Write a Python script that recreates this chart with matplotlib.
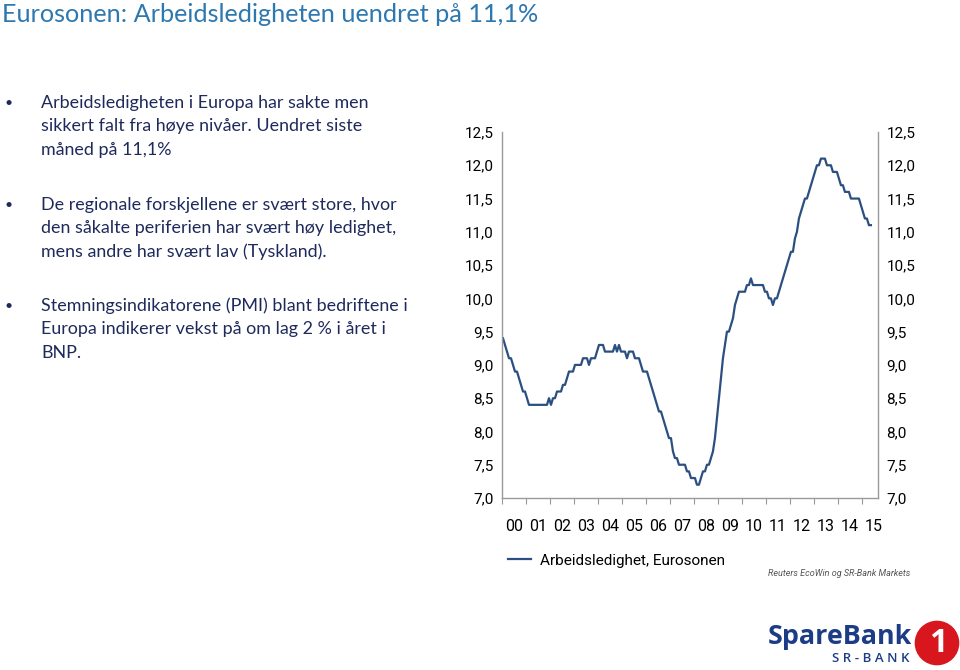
import numpy as np
import matplotlib
matplotlib.use("Agg")
import matplotlib.pyplot as plt
from matplotlib.patches import Circle

# Arbeidsledighet i eurosonen, månedlig jan 2000 - mai 2015 (%)
ledighet = [
    9.4, 9.3, 9.2, 9.1, 9.1, 9.0, 8.9, 8.9, 8.8, 8.7, 8.6, 8.6,       # 2000
    8.5, 8.4, 8.4, 8.4, 8.4, 8.4, 8.4, 8.4, 8.4, 8.4, 8.4, 8.5,       # 2001
    8.4, 8.5, 8.5, 8.6, 8.6, 8.6, 8.7, 8.7, 8.8, 8.9, 8.9, 8.9,       # 2002
    9.0, 9.0, 9.0, 9.0, 9.1, 9.1, 9.1, 9.0, 9.1, 9.1, 9.1, 9.2,       # 2003
    9.3, 9.3, 9.3, 9.2, 9.2, 9.2, 9.2, 9.2, 9.3, 9.2, 9.3, 9.2,       # 2004
    9.2, 9.2, 9.1, 9.2, 9.2, 9.2, 9.1, 9.1, 9.1, 9.0, 8.9, 8.9,       # 2005
    8.9, 8.8, 8.7, 8.6, 8.5, 8.4, 8.3, 8.3, 8.2, 8.1, 8.0, 7.9,       # 2006
    7.9, 7.7, 7.6, 7.6, 7.5, 7.5, 7.5, 7.5, 7.4, 7.4, 7.3, 7.3,       # 2007
    7.3, 7.2, 7.2, 7.3, 7.4, 7.4, 7.5, 7.5, 7.6, 7.7, 7.9, 8.2,       # 2008
    8.5, 8.8, 9.1, 9.3, 9.5, 9.5, 9.6, 9.7, 9.9, 10.0, 10.1, 10.1,    # 2009
    10.1, 10.1, 10.2, 10.2, 10.3, 10.2, 10.2, 10.2, 10.2, 10.2, 10.2, 10.1,  # 2010
    10.1, 10.0, 10.0, 9.9, 10.0, 10.0, 10.1, 10.2, 10.3, 10.4, 10.5, 10.6,   # 2011
    10.7, 10.7, 10.9, 11.0, 11.2, 11.3, 11.4, 11.5, 11.5, 11.6, 11.7, 11.8,  # 2012
    11.9, 12.0, 12.0, 12.1, 12.1, 12.1, 12.0, 12.0, 12.0, 11.9, 11.9, 11.9,  # 2013
    11.8, 11.7, 11.7, 11.6, 11.6, 11.6, 11.5, 11.5, 11.5, 11.5, 11.5, 11.4,  # 2014
    11.3, 11.2, 11.2, 11.1, 11.1,                                     # 2015
]
aar = np.arange(2000, 2016)
aar_etiketter = ["00", "01", "02", "03", "04", "05", "06", "07", "08",
                 "09", "10", "11", "12", "13", "14", "15"]
y_ticks = [7.0, 7.5, 8.0, 8.5, 9.0, 9.5, 10.0, 10.5, 11.0, 11.5, 12.0, 12.5]

tittel = "Eurosonen: Arbeidsledigheten uendret på 11,1%"
punkter = [
    ["Arbeidsledigheten i Europa har sakte men",
     "sikkert falt fra høye nivåer. Uendret siste",
     "måned på 11,1%"],
    ["De regionale forskjellene er svært store, hvor",
     "den såkalte periferien har svært høy ledighet,",
     "mens andre har svært lav (Tyskland)."],
    ["Stemningsindikatorene (PMI) blant bedriftene i",
     "Europa indikerer vekst på om lag 2 % i året i",
     "BNP."],
]
serie_navn = "Arbeidsledighet, Eurosonen"
kilde = "Reuters EcoWin og SR-Bank Markets"

W, H = 960, 670
def fx(px): return px / W
def fy(py): return 1 - py / H

tekstfont = ["Lato", "DejaVu Sans"]
chartfont = ["Liberation Sans Narrow", "Roboto", "DejaVu Sans"]
logofont = ["Open Sans", "DejaVu Sans"]
navy = "#1f2a5c"
linjefarge = "#2b4f80"
akse_farge = "#9a9a9a"
logo_blaa = "#1c3c86"

fig = plt.figure(figsize=(9.6, 6.7), dpi=100)
fig.patch.set_facecolor("white")

# tittel og punkter
fig.text(fx(2), fy(15), tittel, fontsize=18.2, color="#2e78b0",
         family=tekstfont, va="center", ha="left")
blokk_y = [103, 205, 306]
for y0, linjer in zip(blokk_y, punkter):
    fig.text(fx(5), fy(y0), "•", fontsize=10, color=navy, family=tekstfont,
             va="center", ha="left")
    for k, linje in enumerate(linjer):
        fig.text(fx(41), fy(y0 + k * 23.5), linje, fontsize=12.85, color=navy,
                 family=tekstfont, va="center", ha="left")

# diagram
ax = fig.add_axes([fx(502), fy(498), fx(878) - fx(502), fy(132) - fy(498)])
t = 2000 + np.arange(len(ledighet)) / 12 + 1 / 24
ax.plot(t, ledighet, color=linjefarge, lw=1.6, label=serie_navn)
ax.set_xlim(2000, 2015.67)
ax.set_ylim(7.0, 12.5)

ax.set_yticks(y_ticks)
ax.set_yticklabels([f"{v:.1f}".replace(".", ",") for v in y_ticks])
ax.set_xticks(aar)
ax.set_xticklabels([])
ax.set_xticks(aar + 0.5, minor=True)
ax.set_xticklabels(aar_etiketter, minor=True)
ax.tick_params(axis="x", which="major", length=4, color=akse_farge, direction="out")
ax.tick_params(axis="x", which="minor", length=0, pad=15, labelsize=11.5)
ax.tick_params(axis="y", length=0, pad=6, labelsize=11, labelright=True)
for lab in ax.get_xticklabels(minor=True) + ax.yaxis.get_majorticklabels():
    lab.set_family(chartfont)
ax.spines["top"].set_visible(False)
for s in ["left", "right", "bottom"]:
    ax.spines[s].set_color(akse_farge)
    ax.spines[s].set_linewidth(1.0)

ax.legend(loc="upper left", bbox_to_anchor=(0.0, -0.135), frameon=False,
          handlelength=1.5, handletextpad=0.6, borderaxespad=0,
          prop={"family": chartfont, "size": 11})

fig.text(fx(910), fy(574), kilde, fontsize=6.5, style="italic", color="#555555",
         family=chartfont, ha="right", va="center")

# logo
fig.text(fx(768), fy(637), "SpareBank", fontsize=19.4, fontweight="bold",
         color=logo_blaa, family=logofont, ha="left", va="center")
fig.text(fx(909), fy(659), "S R - B A N K", fontsize=9.5, fontweight="semibold",
         color=logo_blaa, family=logofont, ha="right", va="center")
logo_ax = fig.add_axes([fx(914), fy(666), fx(960) - fx(914), fy(620) - fy(666)])
logo_ax.set_xlim(0, 1)
logo_ax.set_ylim(0, 1)
logo_ax.set_aspect("equal")
logo_ax.axis("off")
logo_ax.add_patch(Circle((0.5, 0.5), 0.47, color="#d7161d"))
logo_ax.text(0.52, 0.48, "1", fontsize=23, fontweight="bold", color="white",
             ha="center", va="center", family=logofont)

fig.savefig("out.png", dpi=100)
